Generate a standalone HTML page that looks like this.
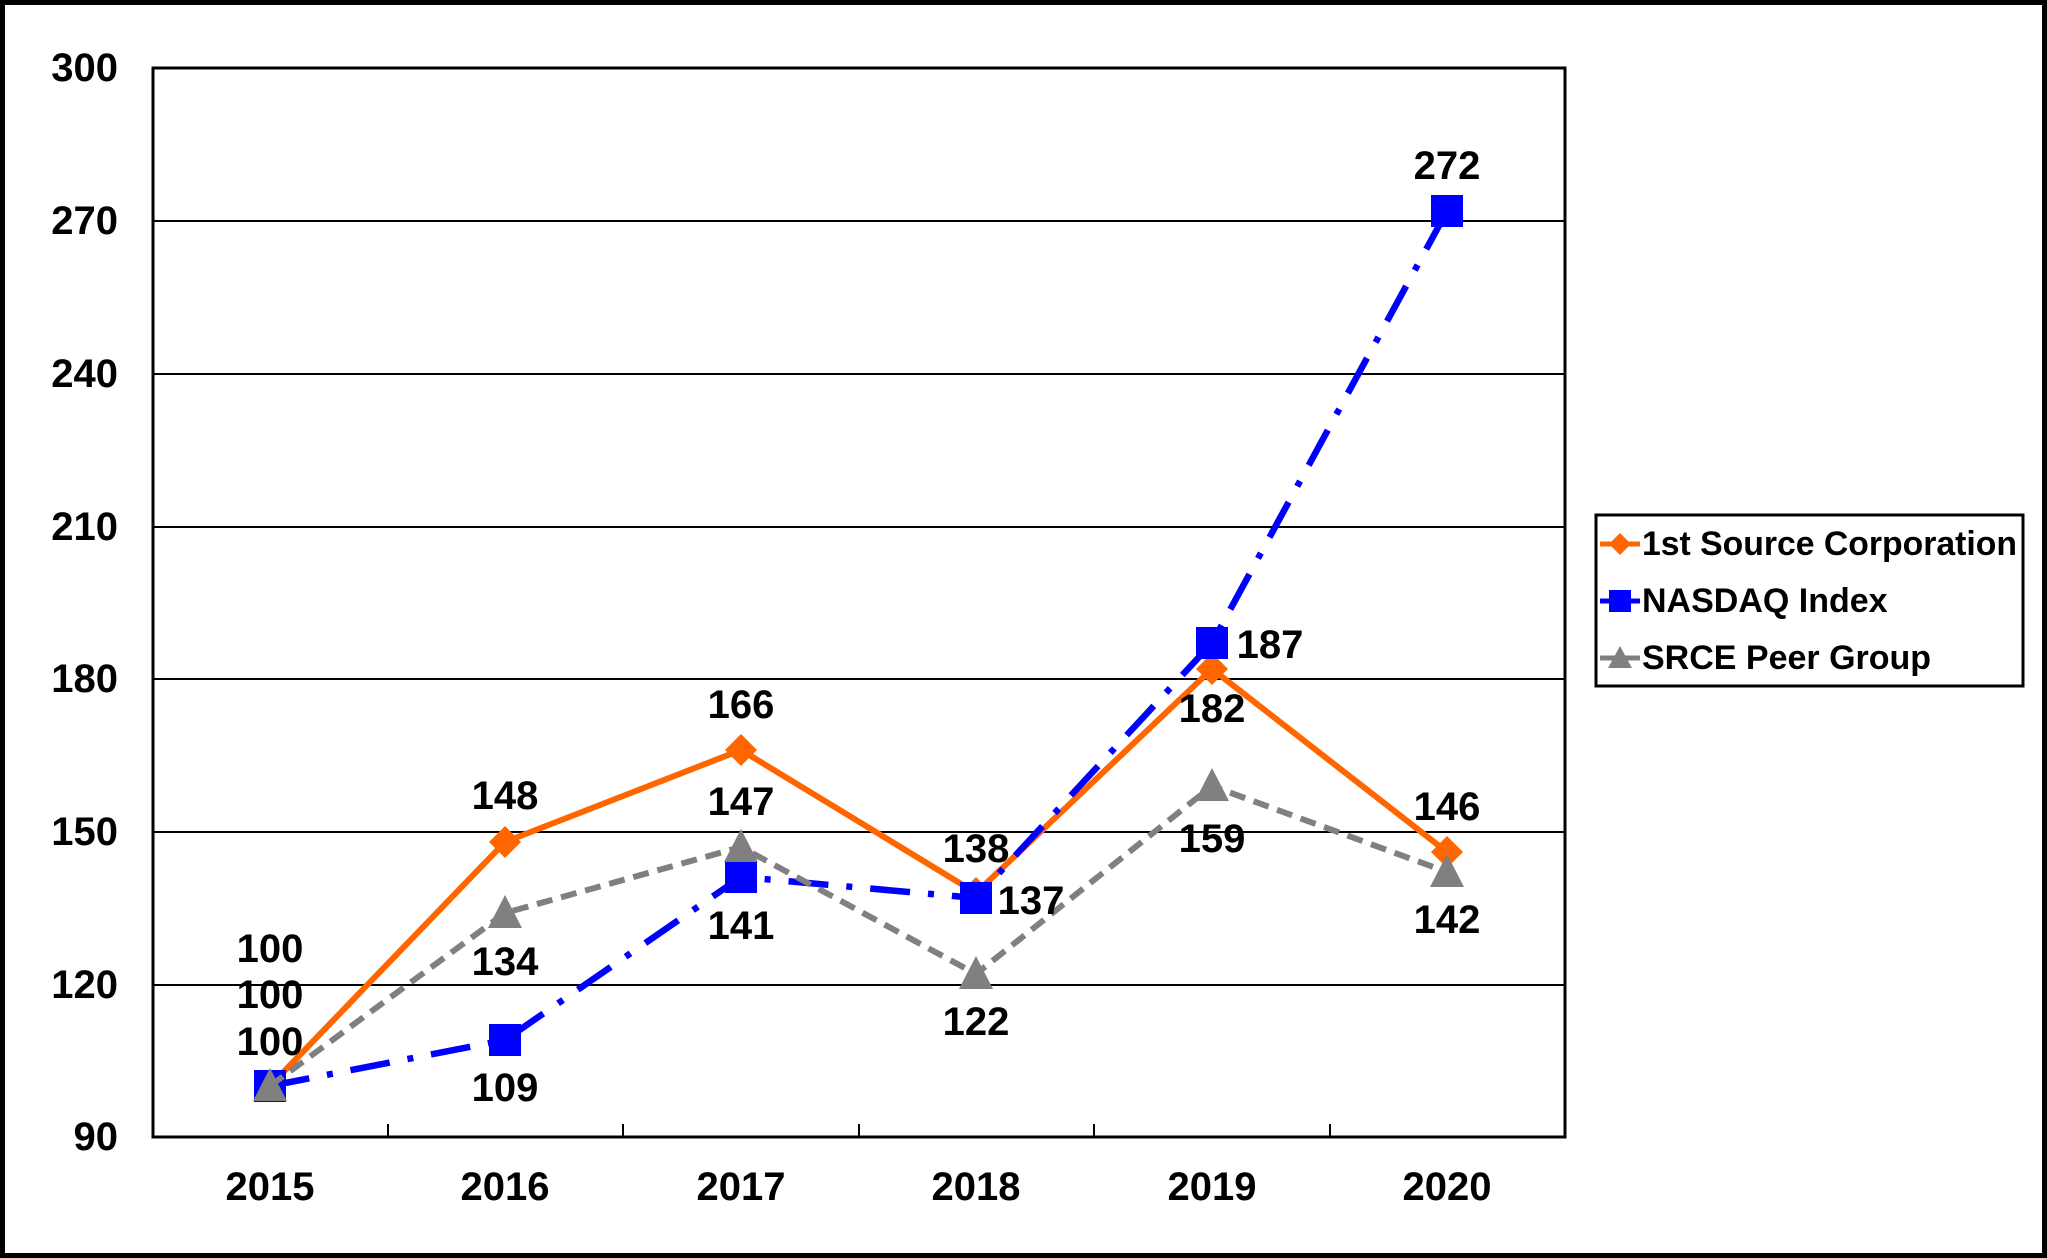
<!DOCTYPE html>
<html><head><meta charset="utf-8"><style>html,body{margin:0;padding:0;background:#fff}svg{display:block}</style></head>
<body>
<svg width="2047" height="1258" viewBox="0 0 2047 1258" xmlns="http://www.w3.org/2000/svg" font-family="Liberation Sans, Arial, sans-serif" font-weight="bold">
<rect x="2.5" y="2.5" width="2042" height="1253" fill="#fff" stroke="#000" stroke-width="5"/>
<g stroke="#000" stroke-width="2">
<line x1="153" y1="221" x2="1565" y2="221"/>
<line x1="153" y1="374" x2="1565" y2="374"/>
<line x1="153" y1="527" x2="1565" y2="527"/>
<line x1="153" y1="679" x2="1565" y2="679"/>
<line x1="153" y1="832" x2="1565" y2="832"/>
<line x1="153" y1="985" x2="1565" y2="985"/>
</g>
<rect x="153" y="68" width="1412" height="1069" fill="none" stroke="#000" stroke-width="3"/>
<g stroke="#000" stroke-width="2">
<line x1="388" y1="1137" x2="388" y2="1124"/><line x1="623" y1="1137" x2="623" y2="1124"/>
<line x1="859" y1="1137" x2="859" y2="1124"/><line x1="1094" y1="1137" x2="1094" y2="1124"/>
<line x1="1330" y1="1137" x2="1330" y2="1124"/>
</g>
<g font-size="40" text-anchor="end" dominant-baseline="central">
<text x="118" y="68">300</text><text x="118" y="221">270</text><text x="118" y="374">240</text>
<text x="118" y="527">210</text><text x="118" y="679">180</text><text x="118" y="832">150</text>
<text x="118" y="985">120</text><text x="118" y="1137">90</text>
</g>
<g font-size="40" text-anchor="middle" dominant-baseline="central">
<text x="270" y="1187">2015</text><text x="505" y="1187">2016</text><text x="741" y="1187">2017</text>
<text x="976" y="1187">2018</text><text x="1212" y="1187">2019</text><text x="1447" y="1187">2020</text>
</g>
<polyline points="270,1086 505,842 741,750 976,893 1212,669 1447,852" fill="none" stroke="#ff6600" stroke-width="6"/>
<g fill="#ff6600">
<polygon points="270,1070 286,1086 270,1102 254,1086"/>
<polygon points="505,826 521,842 505,858 489,842"/>
<polygon points="741,734 757,750 741,766 725,750"/>
<polygon points="976,877 992,893 976,909 960,893"/>
<polygon points="1212,653 1228,669 1212,685 1196,669"/>
<polygon points="1447,836 1463,852 1447,868 1431,852"/>
</g>
<polyline points="270,1086 505,1040 741,877 976,898 1212,643 1447,211" fill="none" stroke="#0000ff" stroke-width="6.5" stroke-dasharray="40,18,6,18"/>
<g fill="#0000ff">
<rect x="254" y="1070" width="32" height="32"/><rect x="489" y="1024" width="32" height="32"/>
<rect x="725" y="861" width="32" height="32"/><rect x="960" y="882" width="32" height="32"/>
<rect x="1196" y="627" width="32" height="32"/><rect x="1431" y="195" width="32" height="32"/>
</g>
<polyline points="270,1086 505,913 741,847 976,974 1212,786 1447,872" fill="none" stroke="#808080" stroke-width="6" stroke-dasharray="16,9"/>
<g fill="#808080">
<polygon points="270,1068 287,1101 253,1101"/>
<polygon points="505,895 522,928 488,928"/>
<polygon points="741,829 758,862 724,862"/>
<polygon points="976,956 993,989 959,989"/>
<polygon points="1212,768 1229,801 1195,801"/>
<polygon points="1447,854 1464,887 1430,887"/>
</g>
<g font-size="40" text-anchor="middle" dominant-baseline="central">
<text x="270" y="949">100</text><text x="505" y="796">148</text><text x="741" y="705">166</text>
<text x="976" y="849">138</text><text x="1212" y="709">182</text><text x="1447" y="807">146</text>
<text x="270" y="1042">100</text><text x="505" y="1088">109</text><text x="741" y="926">141</text>
<text x="1031" y="901">137</text><text x="1270" y="645">187</text><text x="1447" y="166">272</text>
<text x="270" y="995">100</text><text x="505" y="962">134</text><text x="741" y="802">147</text>
<text x="976" y="1022">122</text><text x="1212" y="839">159</text><text x="1447" y="920">142</text>
</g>
<rect x="1596" y="515" width="427" height="171" fill="#fff" stroke="#000" stroke-width="3"/>
<g stroke-width="5">
<line x1="1600" y1="544" x2="1640" y2="544" stroke="#ff6600"/>
<line x1="1600" y1="601" x2="1640" y2="601" stroke="#0000ff"/>
<line x1="1600" y1="658" x2="1640" y2="658" stroke="#808080"/>
</g>
<polygon points="1620,533 1631,544 1620,555 1609,544" fill="#ff6600"/>
<rect x="1609" y="590" width="22" height="22" fill="#0000ff"/>
<polygon points="1620,646 1632,668 1608,668" fill="#808080"/>
<g font-size="34" dominant-baseline="central">
<text x="1642" y="544" textLength="375" lengthAdjust="spacingAndGlyphs">1st Source Corporation</text>
<text x="1642" y="601">NASDAQ Index</text>
<text x="1642" y="658">SRCE Peer Group</text>
</g>
</svg>
</body></html>
